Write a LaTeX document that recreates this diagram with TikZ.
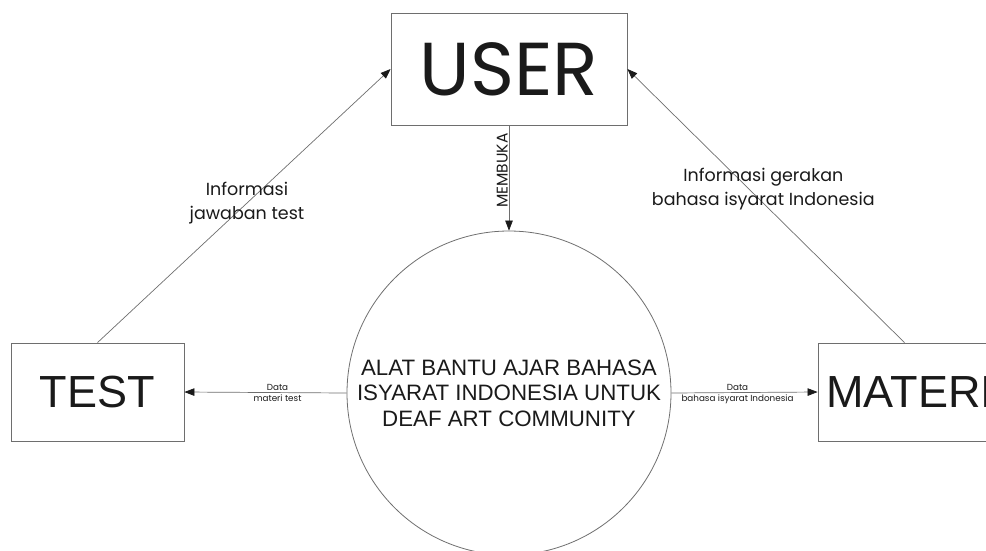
\documentclass[tikz,border=0pt]{standalone}
\usepackage{fontspec}
\setmainfont{Liberation Sans}
\newfontfamily\gothic{Poppins}
\usetikzlibrary{arrows.meta}

\definecolor{linegray}{HTML}{6E6E6E}
\definecolor{ink}{HTML}{1A1A1A}

\begin{document}
\begin{tikzpicture}[x=1pt,y=-1pt,
  entity/.style={draw=linegray, line width=0.8pt, inner sep=0pt, text=ink,
    minimum width=173pt, minimum height=98pt, font=\fontsize{45}{45}\selectfont},
  process/.style={draw=linegray, line width=0.8pt, circle, minimum size=324pt,
    inner sep=0pt, align=center, text=ink, font=\fontsize{22.3}{25.5}\selectfont},
  flow/.style={draw=linegray, line width=0.7pt, -{Triangle[length=10pt,width=7.5pt,color=ink]}},
  flowlabel/.style={text=ink, align=center, font=\gothic\fontsize{17.5}{24}\selectfont},
  datalabel/.style={text=ink, inner sep=1.5pt, font=\gothic\fontsize{8.8}{9}\selectfont}]

  \clip (0,0) rectangle (986,550);

  % entities and the process
  \node[entity, minimum width=236pt, minimum height=112pt,
    font=\gothic\fontsize{75}{75}\selectfont] (user) at (509,69) {USER};
  \node[entity] (test) at (97.5,392) {TEST};
  % name runs off the right edge
  \node[entity, text width=156pt, align=flush left] (materi) at (904.5,392) {MATERI};
  \node[process] (alat) at (509,393)
    {ALAT BANTU AJAR BAHASA\\ISYARAT INDONESIA UNTUK\\DEAF ART COMMUNITY};

  % data flows
  \draw[flow] (user.south) -- (alat.north)
    node[pos=0.43, rotate=90, anchor=south, datalabel, inner sep=1pt,
      font=\gothic\fontsize{15.5}{15.5}\selectfont] {MEMBUKA};
  \draw[flow] (alat.west) -- (test.east)
    node[midway, above, datalabel, xshift=12pt] {Data}
    node[midway, below, datalabel, xshift=12pt] {materi test};
  \draw[flow] (alat.east) -- (materi.west)
    node[midway, above, datalabel, xshift=-7pt] {Data}
    node[midway, below, datalabel, xshift=-7pt] {bahasa isyarat Indonesia};
  \draw[flow] (test.north) -- (user.west)
    node[pos=0.51, flowlabel, xshift=0pt] {Informasi\\jawaban test};
  \draw[flow] (materi.north) -- (user.east)
    node[pos=0.56, flowlabel, xshift=14pt] {Informasi gerakan\\bahasa isyarat Indonesia};
\end{tikzpicture}
\end{document}
